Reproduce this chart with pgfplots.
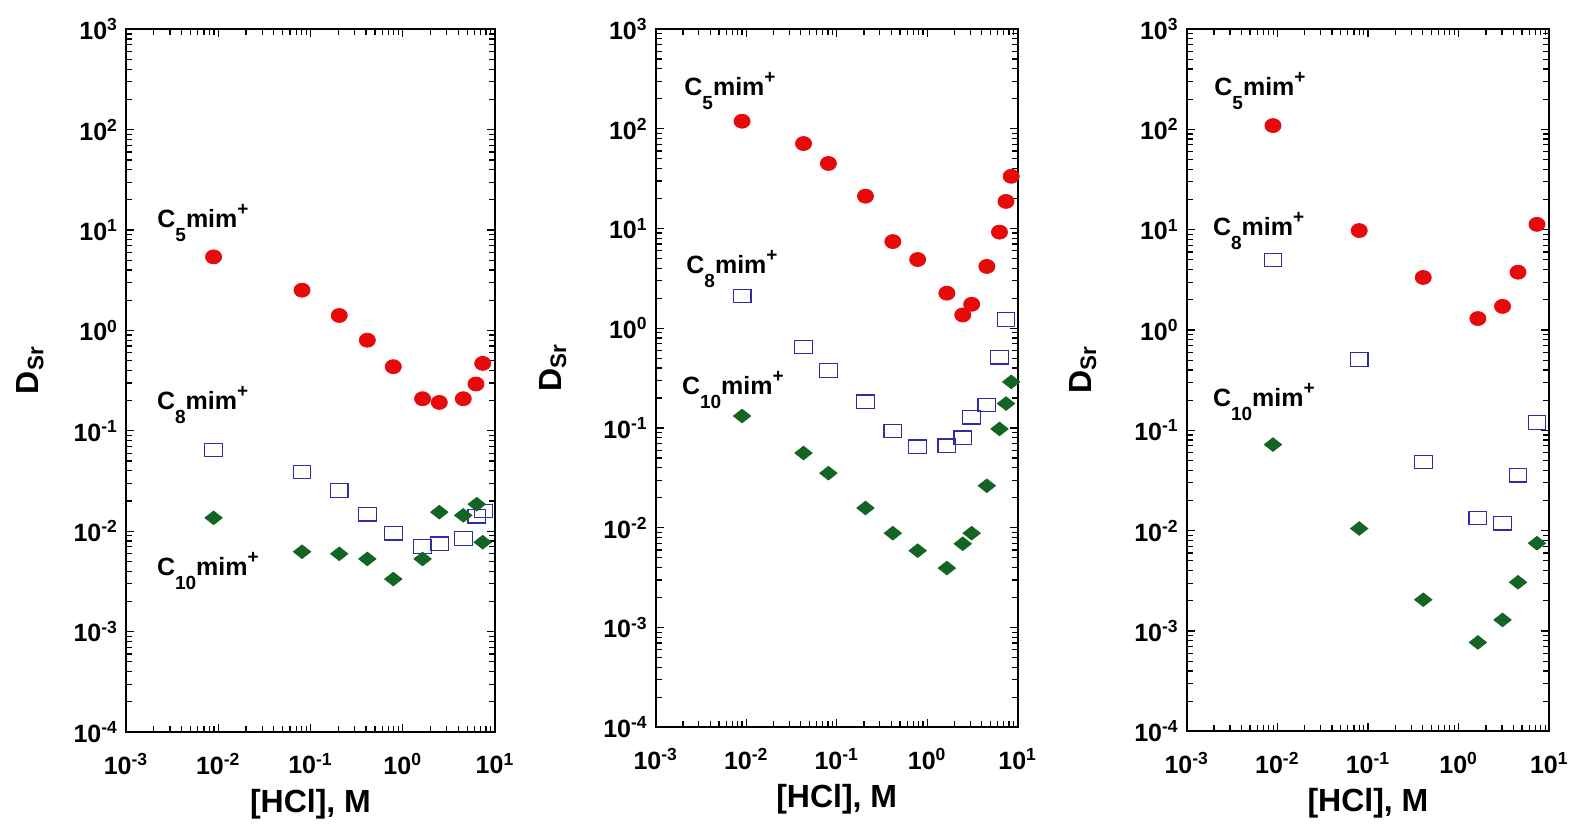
\documentclass[border=0pt]{standalone}
\usepackage{fontspec}
\setmainfont{Liberation Sans}
\usepackage{pgfplots}
\pgfplotsset{compat=1.18}
\definecolor{cred}{RGB}{230,10,10}
\definecolor{cblue}{RGB}{45,45,170}
\definecolor{cgreen}{RGB}{20,100,35}
\newcommand{\lab}[1]{C\raisebox{-7pt}{\fontsize{9.5}{9.5}\selectfont #1}mim\raisebox{6pt}{\fontsize{9.5}{9.5}\selectfont +}}
\pgfplotsset{
  every axis/.append style={
    scale only axis, clip=false,
    xmin=1e-3, xmax=10, ymin=1e-4, ymax=1e3,
    xtick={1e-3,1e-2,1e-1,1,10},
    ytick={1e-4,1e-3,1e-2,1e-1,1,10,100,1000},
    xticklabels={10\textsuperscript{-3},10\textsuperscript{-2},10\textsuperscript{-1},10\textsuperscript{0},10\textsuperscript{1}},
    yticklabels={10\textsuperscript{-4},10\textsuperscript{-3},10\textsuperscript{-2},10\textsuperscript{-1},10\textsuperscript{0},10\textsuperscript{1},10\textsuperscript{2},10\textsuperscript{3}},
    tick align=inside,
    major tick length=4pt, minor tick length=3pt,
    axis line style={line width=0.9pt},
    every tick/.style={black, line width=0.6pt},
    tick label style={font=\fontsize{12.5}{13}\selectfont\bfseries},
    xticklabel style={yshift=-7pt},
    yticklabel style={xshift=-0.5pt},
    xlabel={[HCl], M},
    ylabel={D\textsubscript{Sr}},
    xlabel style={font=\fontsize{16}{18}\selectfont\bfseries, at={(axis description cs:0.5,0)}, anchor=center, yshift=-36pt},
    ylabel style={font=\fontsize{16}{18}\selectfont\bfseries, at={(axis description cs:0,0.515)}, anchor=center},
  },
  c5/.style={only marks, mark=*, mark size=3.5pt, mark options={fill=cred, draw=cred, xscale=1.15}},
  c8/.style={only marks, mark=square, mark size=3.4pt, mark options={draw=cblue, line width=0.6pt, xscale=1.3}},
  c10/.style={only marks, mark=diamond*, mark size=3.4pt, mark options={fill=cgreen, draw=cgreen, xscale=1.7}},
}
\begin{document}
\begin{tikzpicture}[x=1pt,y=1pt]
\path[use as bounding box] (0,0) rectangle (785,-413.5);
% Panel 1
\begin{loglogaxis}[at={(63pt,-366pt)}, anchor=south west, width=184.5pt, height=351.35pt, ylabel style={yshift=48pt}]
\addplot[c5] coordinates {(0.0089,5.41) (0.081,2.52) (0.205,1.41) (0.413,0.80) (0.79,0.436) (1.64,0.209) (2.49,0.192) (4.53,0.209) (6.22,0.293) (7.36,0.47)};
\addplot[c8] coordinates {(0.0089,0.0646) (0.081,0.0389) (0.205,0.0255) (0.413,0.0148) (0.79,0.00957) (1.64,0.00707) (2.49,0.0075) (4.53,0.00847) (6.34,0.0141) (7.47,0.0159)};
\addplot[c10] coordinates {(0.0089,0.0136) (0.081,0.00625) (0.205,0.00596) (0.413,0.0053) (0.79,0.00334) (1.64,0.0053) (2.49,0.0155) (4.53,0.0144) (6.34,0.0186) (7.36,0.00778)};
\end{loglogaxis}
% Panel 2
\begin{loglogaxis}[at={(327.85pt,-363.65pt)}, anchor=south west, width=181pt, height=349.15pt, ylabel style={yshift=51.5pt}]
\addplot[c5] coordinates {(0.0090,119) (0.043,71.1) (0.081,44.9) (0.208,21.1) (0.417,7.40) (0.785,4.89) (1.65,2.25) (2.47,1.36) (3.10,1.74) (4.56,4.17) (6.29,9.20) (7.43,18.7) (8.48,33.4)};
\addplot[c8] coordinates {(0.0090,2.11) (0.043,0.649) (0.081,0.379) (0.208,0.183) (0.417,0.0936) (0.785,0.065) (1.65,0.0665) (2.47,0.0798) (3.10,0.1285) (4.56,0.170) (6.29,0.514) (7.43,1.22)};
\addplot[c10] coordinates {(0.0090,0.132) (0.043,0.0562) (0.081,0.0353) (0.208,0.0158) (0.417,0.00883) (0.785,0.0059) (1.65,0.00395) (2.47,0.00692) (3.10,0.00883) (4.56,0.0264) (6.29,0.098) (7.43,0.176) (8.48,0.290)};
\end{loglogaxis}
% Panel 3
\begin{loglogaxis}[at={(593.35pt,-365.65pt)}, anchor=south west, width=181.3pt, height=351.15pt, ylabel style={yshift=52pt}]
\addplot[c5] coordinates {(0.00895,109) (0.080,9.8) (0.407,3.34) (1.63,1.30) (3.05,1.72) (4.52,3.77) (7.31,11.3)};
\addplot[c8] coordinates {(0.00895,4.99) (0.080,0.506) (0.407,0.0483) (1.63,0.0134) (3.05,0.01186) (4.52,0.0357) (7.31,0.1197)};
\addplot[c10] coordinates {(0.00895,0.0721) (0.080,0.0105) (0.407,0.00205) (1.63,0.000769) (3.05,0.00129) (4.52,0.00306) (7.31,0.0075)};
\end{loglogaxis}
% series labels
\begin{scope}[every node/.style={anchor=base west, inner sep=0pt, font=\fontsize{12.5}{12.5}\selectfont\bfseries}]
\node at (78.5,-113.7) {\lab{5}};
\node at (78.3,-204.9) {\lab{8}};
\node at (78.3,-287.5) {\lab{10}};
\node at (342,-47.5) {\lab{5}};
\node at (343,-136.5) {\lab{8}};
\node at (340.8,-197) {\lab{10}};
\node at (607,-47.5) {\lab{5}};
\node at (606.3,-117.9) {\lab{8}};
\node at (606.3,-203) {\lab{10}};
\end{scope}
\end{tikzpicture}
\end{document}
